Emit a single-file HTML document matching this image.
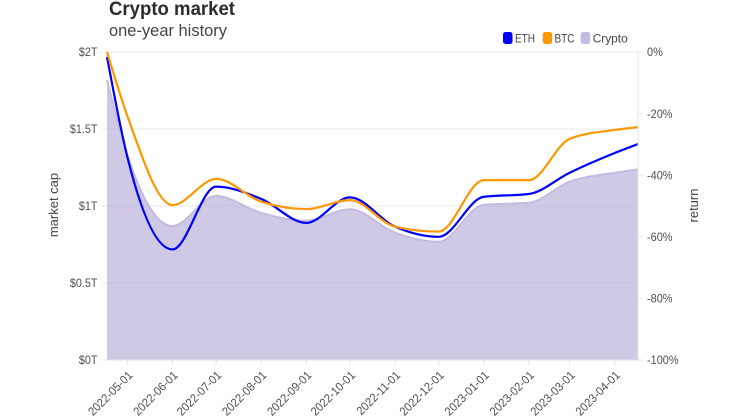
<!DOCTYPE html>
<html lang="en">
<head>
<meta charset="utf-8">
<title>Crypto market</title>
<style>
html,body{margin:0;padding:0;background:#fff;width:735px;height:420px;overflow:hidden}
svg{display:block;font-family:"Liberation Sans",sans-serif}
.tick{font-size:12px;fill:#4f4f4f}
.axis-title{font-size:13px;fill:#444}
.legend{font-size:12px;fill:#444}
</style>
</head>
<body>
<svg id="chart" width="735" height="420" viewBox="0 0 735 420" xmlns="http://www.w3.org/2000/svg">
  <text x="109" y="15" font-size="19" font-weight="700" fill="#2b2b2b" textLength="126" lengthAdjust="spacingAndGlyphs">Crypto market</text>
  <text x="109" y="36" font-size="17" fill="#444" textLength="118" lengthAdjust="spacingAndGlyphs">one-year history</text>
  <g id="grid"></g>
  <g id="marks"></g>
  <g id="axes"></g>
  <text class="axis-title" transform="translate(58,205) rotate(-90)" text-anchor="middle">market cap</text>
  <text class="axis-title" transform="translate(698,205.5) rotate(-90)" text-anchor="middle">return</text>
  <g>
    <g>
      <rect x="503" y="32" width="9.5" height="12" rx="2.5" fill="#0000ff"/>
      <text class="legend" x="515" y="42.5" textLength="20" lengthAdjust="spacingAndGlyphs">ETH</text>
    </g>
    <g>
      <rect x="542.7" y="32" width="9.5" height="12" rx="2.5" fill="#ff9800"/>
      <text class="legend" x="554.5" y="42.5" textLength="20" lengthAdjust="spacingAndGlyphs">BTC</text>
    </g>
    <g>
      <rect x="580.7" y="32" width="9.5" height="12" rx="2.5" fill="#c3bbe0"/>
      <text class="legend" x="592.7" y="42.5" textLength="35" lengthAdjust="spacingAndGlyphs">Crypto</text>
    </g>
  </g>
</svg>
<script>
var dates = ["2022-04-17","2022-05-01","2022-06-01","2022-07-01","2022-08-01","2022-09-01","2022-10-01","2022-11-01","2022-12-01","2023-01-01","2023-02-01","2023-03-01","2023-04-01","2023-04-17"];
var ethReturn = [-1.6,-34.1,-64.1,-43.7,-47.7,-55.5,-47.2,-56.7,-60,-47,-46.1,-39.2,-32.8,-29.9];
var btcReturn = [0,-20.8,-49.7,-41.2,-48.6,-51,-48.1,-56.7,-58.3,-41.6,-41.6,-28.2,-25.3,-24.4];
var cryptoCap = [1.818,1.331,0.870,1.065,0.955,0.905,0.979,0.827,0.768,1.008,1.021,1.158,1.216,1.238];
var xTicks = ["2022-05-01","2022-06-01","2022-07-01","2022-08-01","2022-09-01","2022-10-01","2022-11-01","2022-12-01","2023-01-01","2023-02-01","2023-03-01","2023-04-01"];
var capTicks = [0,0.5,1,1.5,2];
var capTickLabels = ["$0T","$0.5T","$1T","$1.5T","$2T"];
var returnTicks = [0,-20,-40,-60,-80,-100];
var returnTickLabels = ["0%","-20%","-40%","-60%","-80%","-100%"];

var NS = "http://www.w3.org/2000/svg";
var LEFT = 107, RIGHT = 638, TOP = 52, BOTTOM = 360;
var T0 = Date.parse("2022-04-17"), T1 = Date.parse("2023-04-17");
function xScale(d){ return LEFT + (Date.parse(d) - T0) / (T1 - T0) * (RIGHT - LEFT); }
function capScale(v){ return BOTTOM - v / 2 * (BOTTOM - TOP); }
function retScale(v){ return TOP - v / 100 * (BOTTOM - TOP); }
function mk(tag, parent, attrs){
  var el = document.createElementNS(NS, tag);
  for (var k in attrs) el.setAttribute(k, attrs[k]);
  parent.appendChild(el);
  return el;
}
function narrow(el, factor){
  el.setAttribute("textLength", (el.getComputedTextLength() * factor).toFixed(2));
  el.setAttribute("lengthAdjust", "spacingAndGlyphs");
}
function sign(v){ return v < 0 ? -1 : 1; }
function monotonePath(xs, ys){
  var n = xs.length, t = new Array(n), i;
  for (i = 1; i < n - 1; i++){
    var h0 = xs[i] - xs[i-1], h1 = xs[i+1] - xs[i];
    var s0 = (ys[i] - ys[i-1]) / h0, s1 = (ys[i+1] - ys[i]) / h1;
    var p = (s0 * h1 + s1 * h0) / (h0 + h1);
    t[i] = (sign(s0) + sign(s1)) * Math.min(Math.abs(s0), Math.abs(s1), 0.5 * Math.abs(p)) || 0;
  }
  var hA = xs[1] - xs[0], hB = xs[n-1] - xs[n-2];
  t[0] = (3 * (ys[1] - ys[0]) / hA - t[1]) / 2;
  t[n-1] = (3 * (ys[n-1] - ys[n-2]) / hB - t[n-2]) / 2;
  var d = "M" + xs[0].toFixed(2) + "," + ys[0].toFixed(2);
  for (i = 0; i < n - 1; i++){
    var dx = (xs[i+1] - xs[i]) / 3;
    d += "C" + (xs[i] + dx).toFixed(2) + "," + (ys[i] + dx * t[i]).toFixed(2) + " " +
         (xs[i+1] - dx).toFixed(2) + "," + (ys[i+1] - dx * t[i+1]).toFixed(2) + " " +
         xs[i+1].toFixed(2) + "," + ys[i+1].toFixed(2);
  }
  return d;
}

var grid = document.getElementById("grid");
var marks = document.getElementById("marks");
var axes = document.getElementById("axes");
var px = dates.map(xScale);

capTicks.forEach(function(v, i){
  var y = capScale(v);
  var line = mk("line", grid, {x1: LEFT - 5, x2: RIGHT, y1: y, y2: y, stroke: "#e9e9e9", "stroke-width": 1});
  
  
  var label = mk("text", axes, {x: 97.5, y: y + 4.2, "text-anchor": "end", "class": "tick"});
  
  
  label.textContent = capTickLabels[i];
  narrow(label, 0.9);
});

var capLine = monotonePath(px, cryptoCap.map(capScale));
var area = mk("path", marks, {d: capLine + "L" + RIGHT + "," + BOTTOM + "L" + LEFT + "," + BOTTOM + "Z", fill: "#b3a8d6", "fill-opacity": 0.62});


var areaEdge = mk("path", marks, {d: capLine, fill: "none", stroke: "#c3bbe0", "stroke-width": 2});


var ethLine = mk("path", marks, {d: monotonePath(px, ethReturn.map(retScale)), fill: "none", stroke: "#0000ff", "stroke-width": 2.2});


var btcLine = mk("path", marks, {d: monotonePath(px, btcReturn.map(retScale)), fill: "none", stroke: "#ff9800", "stroke-width": 2.2});



var rightAxis = mk("line", axes, {x1: RIGHT, x2: RIGHT, y1: TOP, y2: BOTTOM, stroke: "#e4e4e4", "stroke-width": 1});


var bottomAxis = mk("line", axes, {x1: LEFT, x2: RIGHT, y1: BOTTOM, y2: BOTTOM, stroke: "#e4e4e4", "stroke-width": 1});



returnTicks.forEach(function(v, i){
  var y = retScale(v);
  var tick = mk("line", axes, {x1: RIGHT, x2: RIGHT + 5, y1: y, y2: y, stroke: "#e4e4e4", "stroke-width": 1});
  
  
  var label = mk("text", axes, {x: 647, y: y + 4.2, "class": "tick"});
  
  
  label.textContent = returnTickLabels[i];
  narrow(label, 0.91);
});

xTicks.forEach(function(d){
  var x = xScale(d);
  var tick = mk("line", axes, {x1: x, x2: x, y1: BOTTOM, y2: BOTTOM + 5, stroke: "#e4e4e4", "stroke-width": 1});
  
  
  var label = mk("text", axes, {"text-anchor": "end", "class": "tick", transform: "translate(" + (x + 6).toFixed(2) + ",376) rotate(-45)"});
  
  
  label.textContent = d;
  narrow(label, 0.93);
});
</script>
</body>
</html>
